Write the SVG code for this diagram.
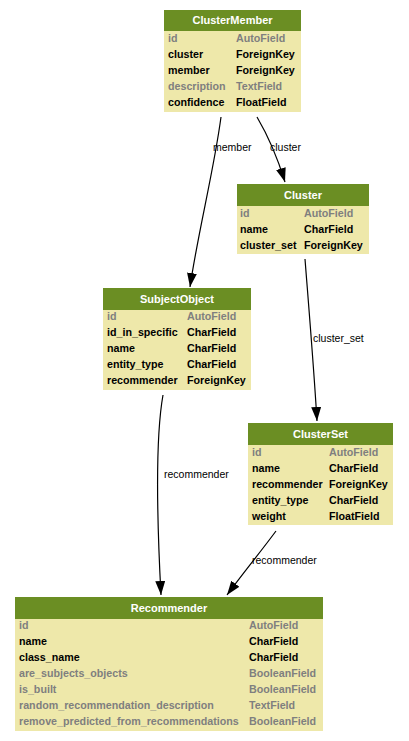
<svg xmlns="http://www.w3.org/2000/svg" width="409" height="741" viewBox="0 0 409 741">
<style>
  .hdr { fill: #6b8e23; }
  .body { fill: #eee8aa; }
  .title { font-family: "Liberation Sans", Arial, sans-serif; font-size: 11px; font-weight: bold; fill: #ffffff; text-anchor: middle; }
  .f { font-family: "Liberation Sans", Arial, sans-serif; font-size: 10.7px; font-weight: bold; fill: #000000; }
  .g { fill: #7f7f7f; }
  .edge { fill: none; stroke: #000000; stroke-width: 1.2; }
  .elabel { font-family: "Liberation Sans", Arial, sans-serif; font-size: 10.5px; fill: #000000; }
</style>
<defs>
  <marker id="arrow" viewBox="0 0 14 10" refX="14" refY="5" markerWidth="14" markerHeight="10" markerUnits="userSpaceOnUse" orient="auto">
    <path d="M0,0 L14,5 L0,10 z" fill="#000000"/>
  </marker>
</defs>
<rect width="409" height="741" fill="#ffffff"/>

<g id="connectors">
  <path class="edge" d="M221,117 C214,170 198,232 190,287" marker-end="url(#arrow)"/>
  <text class="elabel" x="213" y="151">member</text>
  <path class="edge" d="M257,117 C267,134 277,156 285,182" marker-end="url(#arrow)"/>
  <text class="elabel" x="270" y="151">cluster</text>
  <path class="edge" d="M305,259 C309,310 314,370 317,421" marker-end="url(#arrow)"/>
  <text class="elabel" x="313" y="342">cluster_set</text>
  <path class="edge" d="M163,395 C155,440 157,520 161,595" marker-end="url(#arrow)"/>
  <text class="elabel" x="164" y="478">recommender</text>
  <path class="edge" d="M276,531 C262,550 244,572 227,595" marker-end="url(#arrow)"/>
  <text class="elabel" x="252" y="564">recommender</text>
</g>

<g id="ClusterMember">
  <rect class="body" x="164" y="10" width="137" height="102"/>
  <rect class="hdr" x="164" y="10" width="137" height="21"/>
  <text class="title" x="232.5" y="24">ClusterMember</text>
  <text class="f g" x="168" y="42">id</text><text class="f g" x="236" y="42">AutoField</text>
  <text class="f" x="168" y="58">cluster</text><text class="f" x="236" y="58">ForeignKey</text>
  <text class="f" x="168" y="74">member</text><text class="f" x="236" y="74">ForeignKey</text>
  <text class="f g" x="168" y="90">description</text><text class="f g" x="236" y="90">TextField</text>
  <text class="f" x="168" y="106">confidence</text><text class="f" x="236" y="106">FloatField</text>
</g>

<g id="Cluster">
  <rect class="body" x="237" y="184" width="132" height="70"/>
  <rect class="hdr" x="237" y="184" width="132" height="22"/>
  <text class="title" x="303" y="198.5">Cluster</text>
  <text class="f g" x="240" y="217">id</text><text class="f g" x="304" y="217">AutoField</text>
  <text class="f" x="240" y="233">name</text><text class="f" x="304" y="233">CharField</text>
  <text class="f" x="240" y="249">cluster_set</text><text class="f" x="304" y="249">ForeignKey</text>
</g>

<g id="SubjectObject">
  <rect class="body" x="103" y="288" width="148" height="102"/>
  <rect class="hdr" x="103" y="288" width="148" height="22"/>
  <text class="title" x="177" y="302.5">SubjectObject</text>
  <text class="f g" x="107" y="320">id</text><text class="f g" x="187" y="320">AutoField</text>
  <text class="f" x="107" y="336">id_in_specific</text><text class="f" x="187" y="336">CharField</text>
  <text class="f" x="107" y="352">name</text><text class="f" x="187" y="352">CharField</text>
  <text class="f" x="107" y="368">entity_type</text><text class="f" x="187" y="368">CharField</text>
  <text class="f" x="107" y="384">recommender</text><text class="f" x="187" y="384">ForeignKey</text>
</g>

<g id="ClusterSet">
  <rect class="body" x="248" y="423" width="145" height="102"/>
  <rect class="hdr" x="248" y="423" width="145" height="22"/>
  <text class="title" x="320.5" y="437.5">ClusterSet</text>
  <text class="f g" x="252" y="456">id</text><text class="f g" x="329" y="456">AutoField</text>
  <text class="f" x="252" y="472">name</text><text class="f" x="329" y="472">CharField</text>
  <text class="f" x="252" y="488">recommender</text><text class="f" x="329" y="488">ForeignKey</text>
  <text class="f" x="252" y="504">entity_type</text><text class="f" x="329" y="504">CharField</text>
  <text class="f" x="252" y="520">weight</text><text class="f" x="329" y="520">FloatField</text>
</g>

<g id="Recommender">
  <rect class="body" x="15" y="597" width="308" height="134"/>
  <rect class="hdr" x="15" y="597" width="308" height="22"/>
  <text class="title" x="169" y="611.5">Recommender</text>
  <text class="f g" x="19" y="629">id</text><text class="f g" x="249" y="629">AutoField</text>
  <text class="f" x="19" y="645">name</text><text class="f" x="249" y="645">CharField</text>
  <text class="f" x="19" y="661">class_name</text><text class="f" x="249" y="661">CharField</text>
  <text class="f g" x="19" y="677">are_subjects_objects</text><text class="f g" x="249" y="677">BooleanField</text>
  <text class="f g" x="19" y="693">is_built</text><text class="f g" x="249" y="693">BooleanField</text>
  <text class="f g" x="19" y="709">random_recommendation_description</text><text class="f g" x="249" y="709">TextField</text>
  <text class="f g" x="19" y="725">remove_predicted_from_recommendations</text><text class="f g" x="249" y="725">BooleanField</text>
</g>
</svg>
